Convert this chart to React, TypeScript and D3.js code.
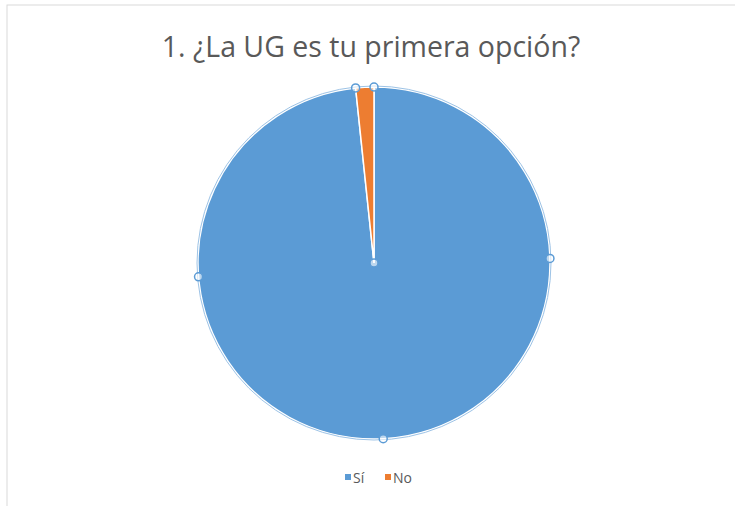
import React from 'react'
import * as d3 from 'd3'

const categories = ['Sí', 'No']
const values = [59, 1]
const colors = ['#5B9BD5', '#ED7D31']
const title = '1. ¿La UG es tu primera opción?'

const width = 735
const height = 506
const cx = 374
const cy = 263
const radius = 176

const App: React.FC = () => {
  const pie = d3.pie<number>().sort(null).value(d => d)
  const arcs = pie(values)
  const arc = d3.arc<d3.PieArcDatum<number>>().innerRadius(0).outerRadius(radius)

  // selection handles like Excel's: slice ends, quarter points of the big slice, center
  const first = arcs[0]
  const handleAngles: number[] = []
  for (let i = 0; i <= 4; i++) {
    handleAngles.push(first.startAngle + (first.endAngle - first.startAngle) * i / 4)
  }
  const handles = handleAngles.map(a => [Math.sin(a) * radius, -Math.cos(a) * radius])
  handles.push([0, 0])

  const legendX = d3.scalePoint<string>().domain(categories).range([345, 385])

  return (
    <svg width={width} height={height} style={{ position: 'absolute', left: 0, top: 0, background: '#fff' }}>
      <rect x={7} y={5} width={width} height={height} fill="#fff" stroke="#d9d9d9" strokeWidth={1} />
      <text x={371} y={57} textAnchor="middle" fontFamily="Open Sans, Liberation Sans, sans-serif" fontSize={28.5} fill="#595959">
        {title}
      </text>
      <g transform={`translate(${cx},${cy})`}>
        {arcs.map((a, i) => (
          <path key={categories[i]} d={arc(a) || ''} fill={colors[i]} stroke="#fff" strokeWidth={1.5} />
        ))}
        <circle r={radius + 1} fill="none" stroke="#9DC3E6" strokeWidth={1} />
        {handles.map((h, i) => (
          <circle key={i} cx={h[0]} cy={h[1]} r={4} fill="#fff" fillOpacity={0.6} stroke="#5B9BD5" strokeWidth={1.5} />
        ))}
      </g>
      {categories.map((c, i) => (
        <g key={c} transform={`translate(${legendX(c)},478)`}>
          <rect x={0} y={-4} width={6} height={6} fill={colors[i]} />
          <text x={8} y={5} fontFamily="Open Sans, Liberation Sans, sans-serif" fontSize={14} fill="#595959">{c}</text>
        </g>
      ))}
    </svg>
  )
}

export default App
